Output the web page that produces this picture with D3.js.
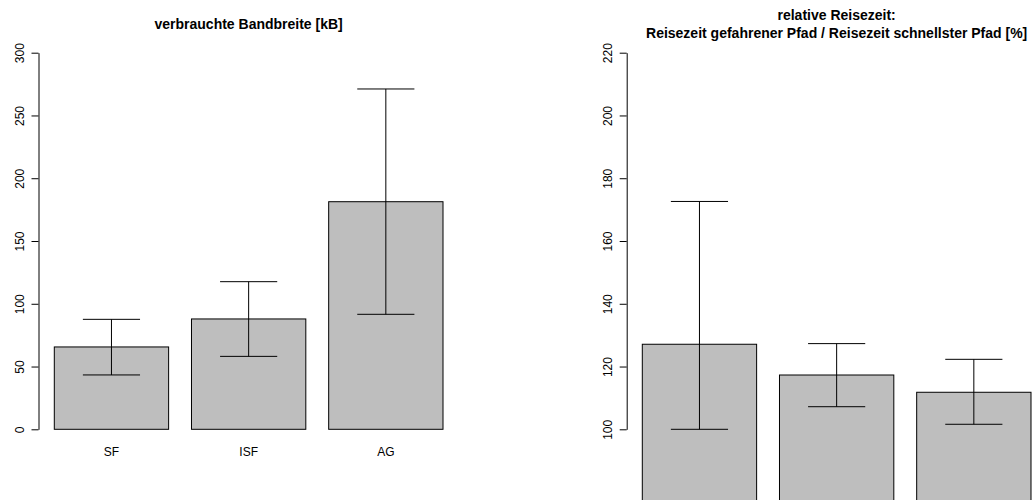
<!DOCTYPE html>
<html>
<head>
<meta charset="utf-8">
<script src="https://cdn.jsdelivr.net/npm/d3@7"></script>
<style>
  body { margin: 0; background: #fff; }
  svg { display: block; font-family: "Liberation Sans", Arial, Helvetica, sans-serif; }
</style>
</head>
<body>
<div id="chart"></div>
<script>
// Data
var categories = ["SF", "ISF", "AG"];

var bandwidthMean = [65.6, 87.9, 181.3];
var bandwidthLow = [43.3, 58.1, 91.6];
var bandwidthHigh = [87.6, 117.6, 271.1];
var bandwidthTicks = [0, 50, 100, 150, 200, 250, 300];

var travelMean = [127.1, 117.3, 111.8];
var travelLow = [100.0, 107.2, 101.6];
var travelHigh = [172.6, 127.3, 122.3];
var travelTicks = [100, 120, 140, 160, 180, 200, 220];

var svgWidth = 1033;
var svgHeight = 500;

var svg = d3.select("#chart")
  .append("svg")
    .attr("width", svgWidth)
    .attr("height", svgHeight);

// Draw one R-style barplot panel
function drawPanel(opts) {
  var data = categories.map(function(c, i) {
    return { cat: c, mean: opts.mean[i], low: opts.low[i], high: opts.high[i] };
  });

  var xBand = d3.scaleBand()
    .domain(categories)
    .range([opts.barLeft, opts.barRight])
    .paddingInner(1 / 6)
    .paddingOuter(0);

  var yScale = d3.scaleLinear()
    .domain(opts.yDomain)
    .range([429.3, 52.7]);

  var g = svg.append("g");

  // bars (drawn from 0, may run past the bottom edge)
  g.selectAll("rect.bar")
    .data(data)
    .enter()
    .append("rect")
    .attr("class", "bar")
    .attr("x", d => xBand(d.cat))
    .attr("y", d => yScale(d.mean))
    .attr("width", xBand.bandwidth())
    .attr("height", d => yScale(0) - yScale(d.mean))
    .attr("fill", "#bebebe")
    .attr("stroke", "#000")
    .attr("stroke-width", 1);

  // error bars
  var cap = xBand.bandwidth() / 4;
  var eb = g.selectAll("g.err")
    .data(data)
    .enter()
    .append("g")
    .attr("class", "err")
    .attr("stroke", "#000")
    .attr("stroke-width", 1);

  eb.append("line")
    .attr("x1", d => xBand(d.cat) + xBand.bandwidth() / 2)
    .attr("x2", d => xBand(d.cat) + xBand.bandwidth() / 2)
    .attr("y1", d => yScale(d.low))
    .attr("y2", d => yScale(d.high));
  eb.append("line")
    .attr("x1", d => xBand(d.cat) + xBand.bandwidth() / 2 - cap)
    .attr("x2", d => xBand(d.cat) + xBand.bandwidth() / 2 + cap)
    .attr("y1", d => yScale(d.high))
    .attr("y2", d => yScale(d.high));
  eb.append("line")
    .attr("x1", d => xBand(d.cat) + xBand.bandwidth() / 2 - cap)
    .attr("x2", d => xBand(d.cat) + xBand.bandwidth() / 2 + cap)
    .attr("y1", d => yScale(d.low))
    .attr("y2", d => yScale(d.low));

  // y axis
  var leftAxis = d3.axisLeft(yScale)
    .tickValues(opts.ticks)
    .tickSize(7)
    .tickSizeOuter(0)
    .tickFormat(d3.format("d"));

  var ax = g.append("g")
    .attr("transform", `translate(${opts.axisX}, 0)`)
    .call(leftAxis);

  ax.select(".domain").attr("stroke", "#000");
  ax.selectAll(".tick line").attr("stroke", "#000");
  ax.selectAll(".tick text")
    .attr("x", 0)
    .attr("y", -15)
    .attr("dy", 0)
    .attr("transform", "rotate(-90)")
    .attr("text-anchor", "middle")
    .attr("fill", "#000")
    .style("font-size", "12px")
    .style("font-family", "'Liberation Sans', Arial, Helvetica, sans-serif");

  // category labels
  if (opts.showNames) {
    g.selectAll("text.name")
      .data(data)
      .enter()
      .append("text")
      .attr("class", "name")
      .attr("x", d => xBand(d.cat) + xBand.bandwidth() / 2)
      .attr("y", 456)
      .attr("text-anchor", "middle")
      .style("font-size", "12px")
      .text(d => d.cat);
  }

  // title
  var center = (opts.axisX + opts.barRight + (opts.barLeft - opts.axisX)) / 2;
  opts.title.forEach(function(line, i) {
    g.append("text")
      .attr("x", center)
      .attr("y", opts.titleY + i * 17.6)
      .attr("text-anchor", "middle")
      .style("font-size", "14px")
      .style("font-weight", "bold")
      .text(line);
  });
}

drawPanel({
  mean: bandwidthMean, low: bandwidthLow, high: bandwidthHigh,
  ticks: bandwidthTicks, yDomain: [0, 300],
  barLeft: 54.3, barRight: 443, axisX: 38.5,
  showNames: true,
  title: ["verbrauchte Bandbreite [kB]"], titleY: 29
});

drawPanel({
  mean: travelMean, low: travelLow, high: travelHigh,
  ticks: travelTicks, yDomain: [100, 220],
  barLeft: 642.3, barRight: 1031, axisX: 626.7,
  showNames: false,
  title: ["relative Reisezeit:", "Reisezeit gefahrener Pfad / Reisezeit schnellster Pfad [%]"], titleY: 20
});
</script>
</body>
</html>
